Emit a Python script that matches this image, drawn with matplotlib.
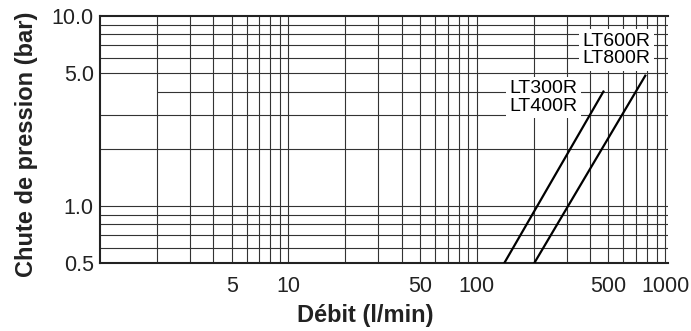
import matplotlib
matplotlib.use("Agg")
import matplotlib.pyplot as plt
from matplotlib.ticker import NullLocator

plt.rcParams['font.family'] = ['Liberation Sans', 'DejaVu Sans']

# pressure drop curves (flow l/min, pressure bar)
lt300_flow = [140, 470]
lt300_drop = [0.5, 4.0]
lt600_flow = [202, 784]
lt600_drop = [0.5, 4.85]

label_lt300 = "LT300R\nLT400R"
label_lt600 = "LT600R\nLT800R"

x_ticks = [5, 10, 50, 100, 500, 1000]
x_tick_labels = ["5", "10", "50", "100", "500", "1000"]
y_ticks = [0.5, 1.0, 5.0, 10.0]
y_tick_labels = ["0.5", "1.0", "5.0", "10.0"]

x_grid = [m * d for d in (1, 10, 100) for m in range(2, 10)] + [10, 100, 1000]
y_grid = [0.6, 0.7, 0.8, 0.9, 1, 2, 3, 4, 5, 6, 7, 8, 9]


def main():
    fig = plt.figure(figsize=(6.91, 3.31), dpi=100)
    ax = fig.add_axes([100 / 691, 1 - 263 / 331, 568 / 691, 247 / 331])
    ax.set_xscale("log")
    ax.set_yscale("log")
    ax.set_xlim(1, 1035)
    ax.set_ylim(0.5, 10)

    # grid drawn by hand (the 4 bar line starts at 2 l/min)
    grid_kw = dict(colors="#333333", linewidth=0.8, zorder=1)
    ax.vlines(x_grid, 0.5, 10, **grid_kw)
    for y in y_grid:
        ax.hlines(y, 2 if y == 4 else 1, 1035, **grid_kw)

    ax.plot(lt300_flow, lt300_drop, color="black", linewidth=1.6, zorder=4)
    ax.plot(lt600_flow, lt600_drop, color="black", linewidth=1.6, zorder=4)

    box = dict(facecolor="white", edgecolor="none", pad=2.5)
    ax.text(342, 3.72, label_lt300, ha="right", va="center", fontsize=14,
            linespacing=1.05, bbox=box, zorder=3)
    ax.text(833, 6.61, label_lt600, ha="right", va="center", fontsize=14,
            linespacing=1.05, bbox=box, zorder=3)

    ax.set_xticks(x_ticks, x_tick_labels)
    ax.set_yticks(y_ticks, y_tick_labels)
    ax.xaxis.set_minor_locator(NullLocator())
    ax.yaxis.set_minor_locator(NullLocator())
    ax.tick_params(axis="x", length=0, pad=9.5, labelsize=15.5, labelcolor="#222222")
    ax.tick_params(axis="y", length=0, pad=4.5, labelsize=15.5, labelcolor="#222222")

    for side in ("left", "bottom", "top"):
        ax.spines[side].set_linewidth(1.5)
        ax.spines[side].set_color("#222222")
    ax.spines["right"].set_visible(False)

    ax.set_xlabel("Débit (l/min)", fontsize=17, fontweight="bold", color="#222222")
    ax.xaxis.set_label_coords(0.4665, -0.167)
    ax.set_ylabel("Chute de pression (bar)", fontsize=17, fontweight="bold", color="#222222")
    ax.yaxis.set_label_coords(-0.11, 0.482)

    fig.savefig("out.png", dpi=100)
    plt.close(fig)


if __name__ == "__main__":
    main()
